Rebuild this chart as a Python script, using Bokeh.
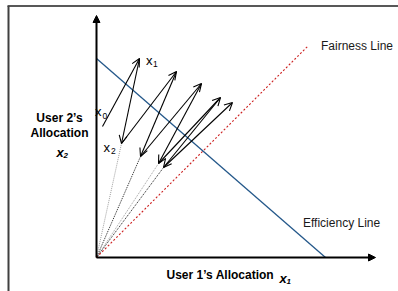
from bokeh.plotting import figure
from bokeh.models import Range1d, Arrow, OpenHead, NormalHead, ColumnDataSource
from bokeh.core.properties import value
from bokeh.embed import file_html
from bokeh.resources import INLINE

# AIMD trajectory points (x1, x2) relative to the origin
alloc_x1 = [6, 43, 25, 80, 44, 105, 62, 124, 67, 136]
alloc_x2 = [131, 199, 114, 186, 101, 174, 94, 160, 90, 155]
point_names = ["x", "x", "x"]
point_subs = ["0", "1", "2"]

efficiency_x1 = [0, 229]
efficiency_x2 = [199, 0]
fairness_x1 = [0, 212]
fairness_x2 = [0, 212]
axis_x1_max = 279
axis_x2_max = 242

FONT = value("Liberation Sans")

p = figure(width=398, height=291, x_range=Range1d(-96, 302), y_range=Range1d(-34, 257),
           output_backend="svg", toolbar_location=None, min_border=0,
           x_axis_location=None, y_axis_location=None)
p.grid.visible = False
p.outline_line_color = None

# frame
p.line([-89, 302], [251.5, 251.5], line_color="#202020", line_width=1.5)
p.line([-88, -88], [-34, 251.5], line_color="#404040", line_width=2)

# dotted rays from origin to decrease points
ray_idx = [2, 4, 6, 8]
ray_colors = ["#a0a0a0", "#202020", "#a0a0a0", "#202020"]
p.segment(x0=[0] * len(ray_idx), y0=[0] * len(ray_idx),
          x1=[alloc_x1[i] for i in ray_idx], y1=[alloc_x2[i] for i in ray_idx],
          line_color=ray_colors, line_width=1, line_dash="1 1")

# fairness line
p.line(fairness_x1, fairness_x2, line_color="#cc1f1f", line_width=1.1, line_dash="2 2")
# efficiency line
p.line(efficiency_x1, efficiency_x2, line_color="#24588a", line_width=1.3)

# axes
p.add_layout(Arrow(x_start=0, y_start=0, x_end=axis_x1_max, y_end=0, line_width=2, line_color="black",
                   end=NormalHead(size=7, fill_color="black", line_color="black", line_width=1)))
p.add_layout(Arrow(x_start=0, y_start=0, x_end=0, y_end=axis_x2_max, line_width=2, line_color="black",
                   end=NormalHead(size=7, fill_color="black", line_color="black", line_width=1)))

# trajectory arrows
src = ColumnDataSource(dict(xs=alloc_x1[:-1], ys=alloc_x2[:-1], xe=alloc_x1[1:], ye=alloc_x2[1:]))
p.add_layout(Arrow(x_start="xs", y_start="ys", x_end="xe", y_end="ye", source=src,
                   line_color="black", line_width=1.1,
                   end=OpenHead(size=8, line_color="black", line_width=1.1)))

# point labels
lab_u = [-1.5, 49.5, 7]
lab_v = [146, 197, 110]
sub_u = [6, 56.5, 14.5]
sub_v = [142, 193.5, 107]
p.text(x=lab_u, y=lab_v, text=point_names, text_font=FONT, text_font_size="13px",
       text_color="black", text_baseline="alphabetic", text_align="left")
p.text(x=sub_u, y=sub_v, text=point_subs, text_font=FONT, text_font_size="8.5px",
       text_color="black", text_baseline="alphabetic", text_align="left")

# line labels
p.text(x=[224.5, 206.5], y=[212, 35], text=["Fairness Line", "Efficiency Line"], text_font=FONT,
       text_font_size="12px", text_color="#1a1a1a", text_baseline="middle", text_align="left")

# axis titles
p.text(x=[-37, -37], y=[140, 125], text=["User 2\u2019s", "Allocation"], text_font=FONT,
       text_font_size="12px", text_font_style="bold", text_color="black",
       text_baseline="middle", text_align="center")
p.text(x=[-40], y=[105], text=["x"], text_font=FONT, text_font_size="13px",
       text_font_style="bold italic", text_color="black", text_baseline="alphabetic", text_align="left")
p.text(x=[-33], y=[102], text=["2"], text_font=FONT, text_font_size="8px",
       text_font_style="bold italic", text_color="black", text_baseline="alphabetic", text_align="left")

p.text(x=[70], y=[-17], text=["User 1\u2019s Allocation"], text_font=FONT, text_font_size="12px",
       text_font_style="bold", text_color="black", text_baseline="middle", text_align="left")
p.text(x=[183], y=[-21], text=["x"], text_font=FONT, text_font_size="13px",
       text_font_style="bold italic", text_color="black", text_baseline="alphabetic", text_align="left")
p.text(x=[190], y=[-24], text=["1"], text_font=FONT, text_font_size="8px",
       text_font_style="bold italic", text_color="black", text_baseline="alphabetic", text_align="left")

open("out.html", "w").write(file_html(p, INLINE))
